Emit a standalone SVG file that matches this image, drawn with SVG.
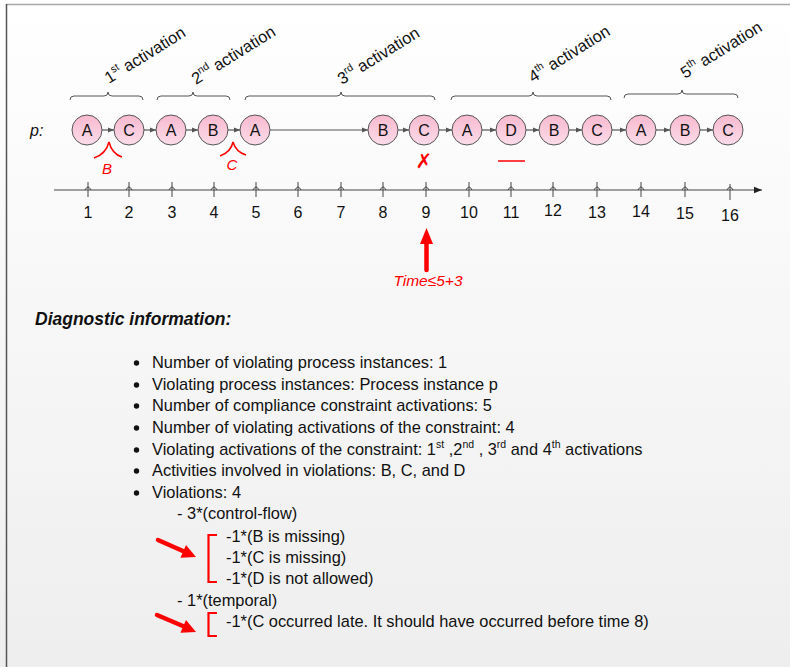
<svg xmlns="http://www.w3.org/2000/svg" width="790" height="667" viewBox="0 0 790 667">
  <defs>
    <linearGradient id="bg" x1="0" y1="0" x2="0" y2="1">
      <stop offset="0" stop-color="#ffffff"/>
      <stop offset="1" stop-color="#eeeeee"/>
    </linearGradient>
    <linearGradient id="pink" x1="0" y1="0" x2="0" y2="1">
      <stop offset="0" stop-color="#f7b9cf"/>
      <stop offset="1" stop-color="#fcdce8"/>
    </linearGradient>
    <marker id="head" viewBox="0 0 10 10" refX="10" refY="5" markerWidth="6" markerHeight="6" markerUnits="userSpaceOnUse" orient="auto">
      <path d="M0,1 L10,5 L0,9 Z" fill="#555"/>
    </marker>
    <marker id="axisHead" viewBox="0 0 10 10" refX="10" refY="5" markerWidth="9" markerHeight="8" markerUnits="userSpaceOnUse" orient="auto">
      <path d="M0,1 L10,5 L0,9 Z" fill="#222"/>
    </marker>
  </defs>
  <style>
    .node circle { fill: url(#pink); stroke: #555; stroke-width: 1; }
    .node text { font-family: "Liberation Sans", Arial, sans-serif; font-size: 16px; fill: #111; text-anchor: middle; }
    .flow { stroke: #555; stroke-width: 1.2; fill: none; marker-end: url(#head); }
    .brace { stroke: #555; stroke-width: 1; fill: none; }
    .act { font-family: "Liberation Sans", Arial, sans-serif; font-size: 16.5px; fill: #111; }
    .sup { font-size: 10.5px; }
    .tick { stroke: #444; stroke-width: 1; fill: none; }
    .num { font-family: "Liberation Sans", Arial, sans-serif; font-size: 16px; fill: #111; text-anchor: middle; }
    .red { fill: #ff0000; font-family: "Liberation Sans", Arial, sans-serif; font-style: italic; }
    .body { font-family: "Liberation Sans", Arial, sans-serif; font-size: 16.4px; fill: #111; }
    .bsup { font-size: 10.5px; }
    .redline { stroke: #ff0000; fill: none; }
    .pointer { fill: #ff0000; }
  </style>

  <!-- panel -->
  <rect x="0" y="0" width="790" height="667" fill="url(#bg)"/>
  <line x1="6" y1="4.5" x2="790" y2="4.5" stroke="#a8a8a8" stroke-width="1.5"/>
  <line x1="6.5" y1="4" x2="6.5" y2="667" stroke="#555" stroke-width="1.5"/>

  <!-- activation braces and labels -->
  <g id="activations">
    <path class="brace" d="M70,100 Q70,96 74,96 L104,96 Q108,96 108,92 Q108,96 112,96 L139,96 Q143,96 143,100"/>
    <path class="brace" d="M157,100 Q157,96 161,96 L189,96 Q193,96 193,92 Q193,96 197,96 L226,96 Q230,96 230,100"/>
    <path class="brace" d="M245,100 Q245,96 249,96 L337,96 Q341,96 341,92 Q341,96 345,96 L431,96 Q435,96 435,100"/>
    <path class="brace" d="M451,100 Q451,96 455,96 L529,96 Q533,96 533,92 Q533,96 537,96 L607,96 Q611,96 611,100"/>
    <path class="brace" d="M624,98 Q624,94 628,94 L678,94 Q682,94 682,90 Q682,94 686,94 L734,94 Q738,94 738,98"/>
    <text class="act" transform="translate(109,84) rotate(-32)">1<tspan class="sup" dy="-7">st</tspan><tspan dy="7"> activation</tspan></text>
    <text class="act" transform="translate(196,85) rotate(-32)">2<tspan class="sup" dy="-7">nd</tspan><tspan dy="7"> activation</tspan></text>
    <text class="act" transform="translate(342,85) rotate(-32)">3<tspan class="sup" dy="-7">rd</tspan><tspan dy="7"> activation</tspan></text>
    <text class="act" transform="translate(533,83) rotate(-32)">4<tspan class="sup" dy="-7">th</tspan><tspan dy="7"> activation</tspan></text>
    <text class="act" transform="translate(685,79) rotate(-32)">5<tspan class="sup" dy="-7">th</tspan><tspan dy="7"> activation</tspan></text>
  </g>

  <text x="30" y="136" font-family="Liberation Sans, Arial, sans-serif" font-size="16" font-style="italic" fill="#111">p:</text>

  <!-- trace connectors -->
  <g id="connectors">
    <line class="flow" x1="102" y1="130" x2="114" y2="130"/>
    <line class="flow" x1="144" y1="130" x2="156" y2="130"/>
    <line class="flow" x1="186" y1="130" x2="198" y2="130"/>
    <line class="flow" x1="228" y1="130" x2="240" y2="130"/>
    <line class="flow" x1="270" y1="130" x2="368" y2="130"/>
    <line class="flow" x1="398" y1="130" x2="409" y2="130"/>
    <line class="flow" x1="439" y1="130" x2="452" y2="130"/>
    <line class="flow" x1="482" y1="130" x2="496" y2="130"/>
    <line class="flow" x1="526" y1="130" x2="539" y2="130"/>
    <line class="flow" x1="569" y1="130" x2="582" y2="130"/>
    <line class="flow" x1="612" y1="130" x2="626" y2="130"/>
    <line class="flow" x1="656" y1="130" x2="670" y2="130"/>
    <line class="flow" x1="700" y1="130" x2="713" y2="130"/>
  </g>

  <!-- trace events -->
  <g id="e1" class="node"><circle cx="87" cy="130" r="15"/><text x="87" y="136">A</text></g>
  <g id="e2" class="node"><circle cx="129" cy="130" r="15"/><text x="129" y="136">C</text></g>
  <g id="e3" class="node"><circle cx="171" cy="130" r="15"/><text x="171" y="136">A</text></g>
  <g id="e4" class="node"><circle cx="213" cy="130" r="15"/><text x="213" y="136">B</text></g>
  <g id="e5" class="node"><circle cx="255" cy="130" r="15"/><text x="255" y="136">A</text></g>
  <g id="e6" class="node"><circle cx="383" cy="130" r="15"/><text x="383" y="136">B</text></g>
  <g id="e7" class="node"><circle cx="424" cy="130" r="15"/><text x="424" y="136">C</text></g>
  <g id="e8" class="node"><circle cx="467" cy="130" r="15"/><text x="467" y="136">A</text></g>
  <g id="e9" class="node"><circle cx="511" cy="130" r="15"/><text x="511" y="136">D</text></g>
  <g id="e10" class="node"><circle cx="554" cy="130" r="15"/><text x="554" y="136">B</text></g>
  <g id="e11" class="node"><circle cx="597" cy="130" r="15"/><text x="597" y="136">C</text></g>
  <g id="e12" class="node"><circle cx="641" cy="130" r="15"/><text x="641" y="136">A</text></g>
  <g id="e13" class="node"><circle cx="685" cy="130" r="15"/><text x="685" y="136">B</text></g>
  <g id="e14" class="node"><circle cx="728" cy="130" r="15"/><text x="728" y="136">C</text></g>

  <!-- violation marks -->
  <g id="marks">
    <path class="redline" stroke-width="1.5" d="M94,158 Q106,154 109,142 Q112,154 122,157"/>
    <text class="red" x="107" y="174" font-size="15" text-anchor="middle">B</text>
    <path class="redline" stroke-width="1.5" d="M220,156 Q231,152 233,142 Q236,152 246,155"/>
    <text class="red" x="232" y="170" font-size="15" text-anchor="middle">C</text>
    <text x="424" y="168" font-family="DejaVu Sans, sans-serif" font-size="20" font-weight="bold" fill="#ff0000" text-anchor="middle">✗</text>
    <line class="redline" stroke-width="1.5" x1="498" y1="161" x2="525" y2="161"/>
  </g>

  <!-- time axis -->
  <g id="axis">
    <line x1="54" y1="190" x2="762" y2="190" stroke="#444" stroke-width="1.2" marker-end="url(#axisHead)"/>
    <path class="tick" d="M88,182 V197 M85,190 Q88,184 91,190 M129,182 V197 M126,190 Q129,184 132,190 M172,182 V197 M169,190 Q172,184 175,190 M214,182 V197 M211,190 Q214,184 217,190 M256,182 V197 M253,190 Q256,184 259,190 M298,182 V197 M295,190 Q298,184 301,190 M341,182 V197 M338,190 Q341,184 344,190 M383,182 V197 M380,190 Q383,184 386,190 M426,182 V197 M423,190 Q426,184 429,190 M469,182 V197 M466,190 Q469,184 472,190 M511,182 V197 M508,190 Q511,184 514,190 M553,182 V197 M550,190 Q553,184 556,190 M597,182 V197 M594,190 Q597,184 600,190 M641,182 V197 M638,190 Q641,184 644,190 M685,182 V197 M682,190 Q685,184 688,190 M730,184 V200 M727,190 Q730,184 733,190"/>
    <text class="num" x="88" y="218">1</text>
    <text class="num" x="129" y="218">2</text>
    <text class="num" x="172" y="218">3</text>
    <text class="num" x="214" y="218">4</text>
    <text class="num" x="256" y="218">5</text>
    <text class="num" x="298" y="218">6</text>
    <text class="num" x="341" y="218">7</text>
    <text class="num" x="383" y="218">8</text>
    <text class="num" x="426" y="218">9</text>
    <text class="num" x="469" y="218">10</text>
    <text class="num" x="511" y="218">11</text>
    <text class="num" x="553" y="216">12</text>
    <text class="num" x="597" y="218">13</text>
    <text class="num" x="641" y="217">14</text>
    <text class="num" x="685" y="219">15</text>
    <text class="num" x="730" y="221">16</text>
  </g>

  <!-- deadline pointer -->
  <g id="deadline">
    <line x1="426.5" y1="270" x2="426.5" y2="240" stroke="#ff0000" stroke-width="4.5" stroke-linecap="round"/>
    <path class="pointer" d="M420,244 L426.5,228 L433,244 Z"/>
    <text class="red" x="428" y="286" font-size="15.5" text-anchor="middle">Time≤5+3</text>
  </g>

  <!-- diagnostic report -->
  <g id="report">
    <text x="35" y="325" font-family="Liberation Sans, Arial, sans-serif" font-size="17.5" font-weight="bold" font-style="italic" fill="#111">Diagnostic information:</text>
    <g fill="#111">
      <circle cx="136.5" cy="363" r="2.7"/>
      <circle cx="136.5" cy="385" r="2.7"/>
      <circle cx="136.5" cy="406" r="2.7"/>
      <circle cx="136.5" cy="428" r="2.7"/>
      <circle cx="136.5" cy="450" r="2.7"/>
      <circle cx="136.5" cy="471" r="2.7"/>
      <circle cx="136.5" cy="493" r="2.7"/>
    </g>
    <text class="body" x="152" y="368">Number of violating process instances: 1</text>
    <text class="body" x="152" y="390">Violating process instances: Process instance p</text>
    <text class="body" x="152" y="411">Number of compliance constraint activations: 5</text>
    <text class="body" x="152" y="433">Number of violating activations of the constraint: 4</text>
    <text class="body" x="152" y="455">Violating activations of the constraint: 1<tspan class="bsup" dy="-7">st</tspan><tspan dy="7"> ,2</tspan><tspan class="bsup" dy="-7">nd</tspan><tspan dy="7"> , 3</tspan><tspan class="bsup" dy="-7">rd</tspan><tspan dy="7"> and 4</tspan><tspan class="bsup" dy="-7">th</tspan><tspan dy="7"> activations</tspan></text>
    <text class="body" x="152" y="476">Activities involved in violations: B, C, and D</text>
    <text class="body" x="152" y="498">Violations: 4</text>
    <text class="body" x="177" y="519">- 3*(control-flow)</text>
    <text class="body" x="226" y="542">-1*(B is missing)</text>
    <text class="body" x="226" y="563">-1*(C is missing)</text>
    <text class="body" x="226" y="584">-1*(D is not allowed)</text>
    <text class="body" x="177" y="606">- 1*(temporal)</text>
    <text class="body" x="226" y="627">-1*(C occurred late. It should have occurred before time 8)</text>

    <path class="redline" stroke-width="2.2" d="M217,535 H208.5 V582 H217"/>
    <path class="redline" stroke-width="2.2" d="M217,613 H208.5 V636 H217"/>
    <line x1="158" y1="540" x2="184" y2="551.5" stroke="#ff0000" stroke-width="4.5" stroke-linecap="round"/>
    <path class="pointer" d="M180.4,557.8 L196,557 L186,545 Z"/>
    <line x1="157" y1="615" x2="184" y2="626.5" stroke="#ff0000" stroke-width="4.5" stroke-linecap="round"/>
    <path class="pointer" d="M180.4,632.8 L196,632 L186,620 Z"/>
  </g>
</svg>
